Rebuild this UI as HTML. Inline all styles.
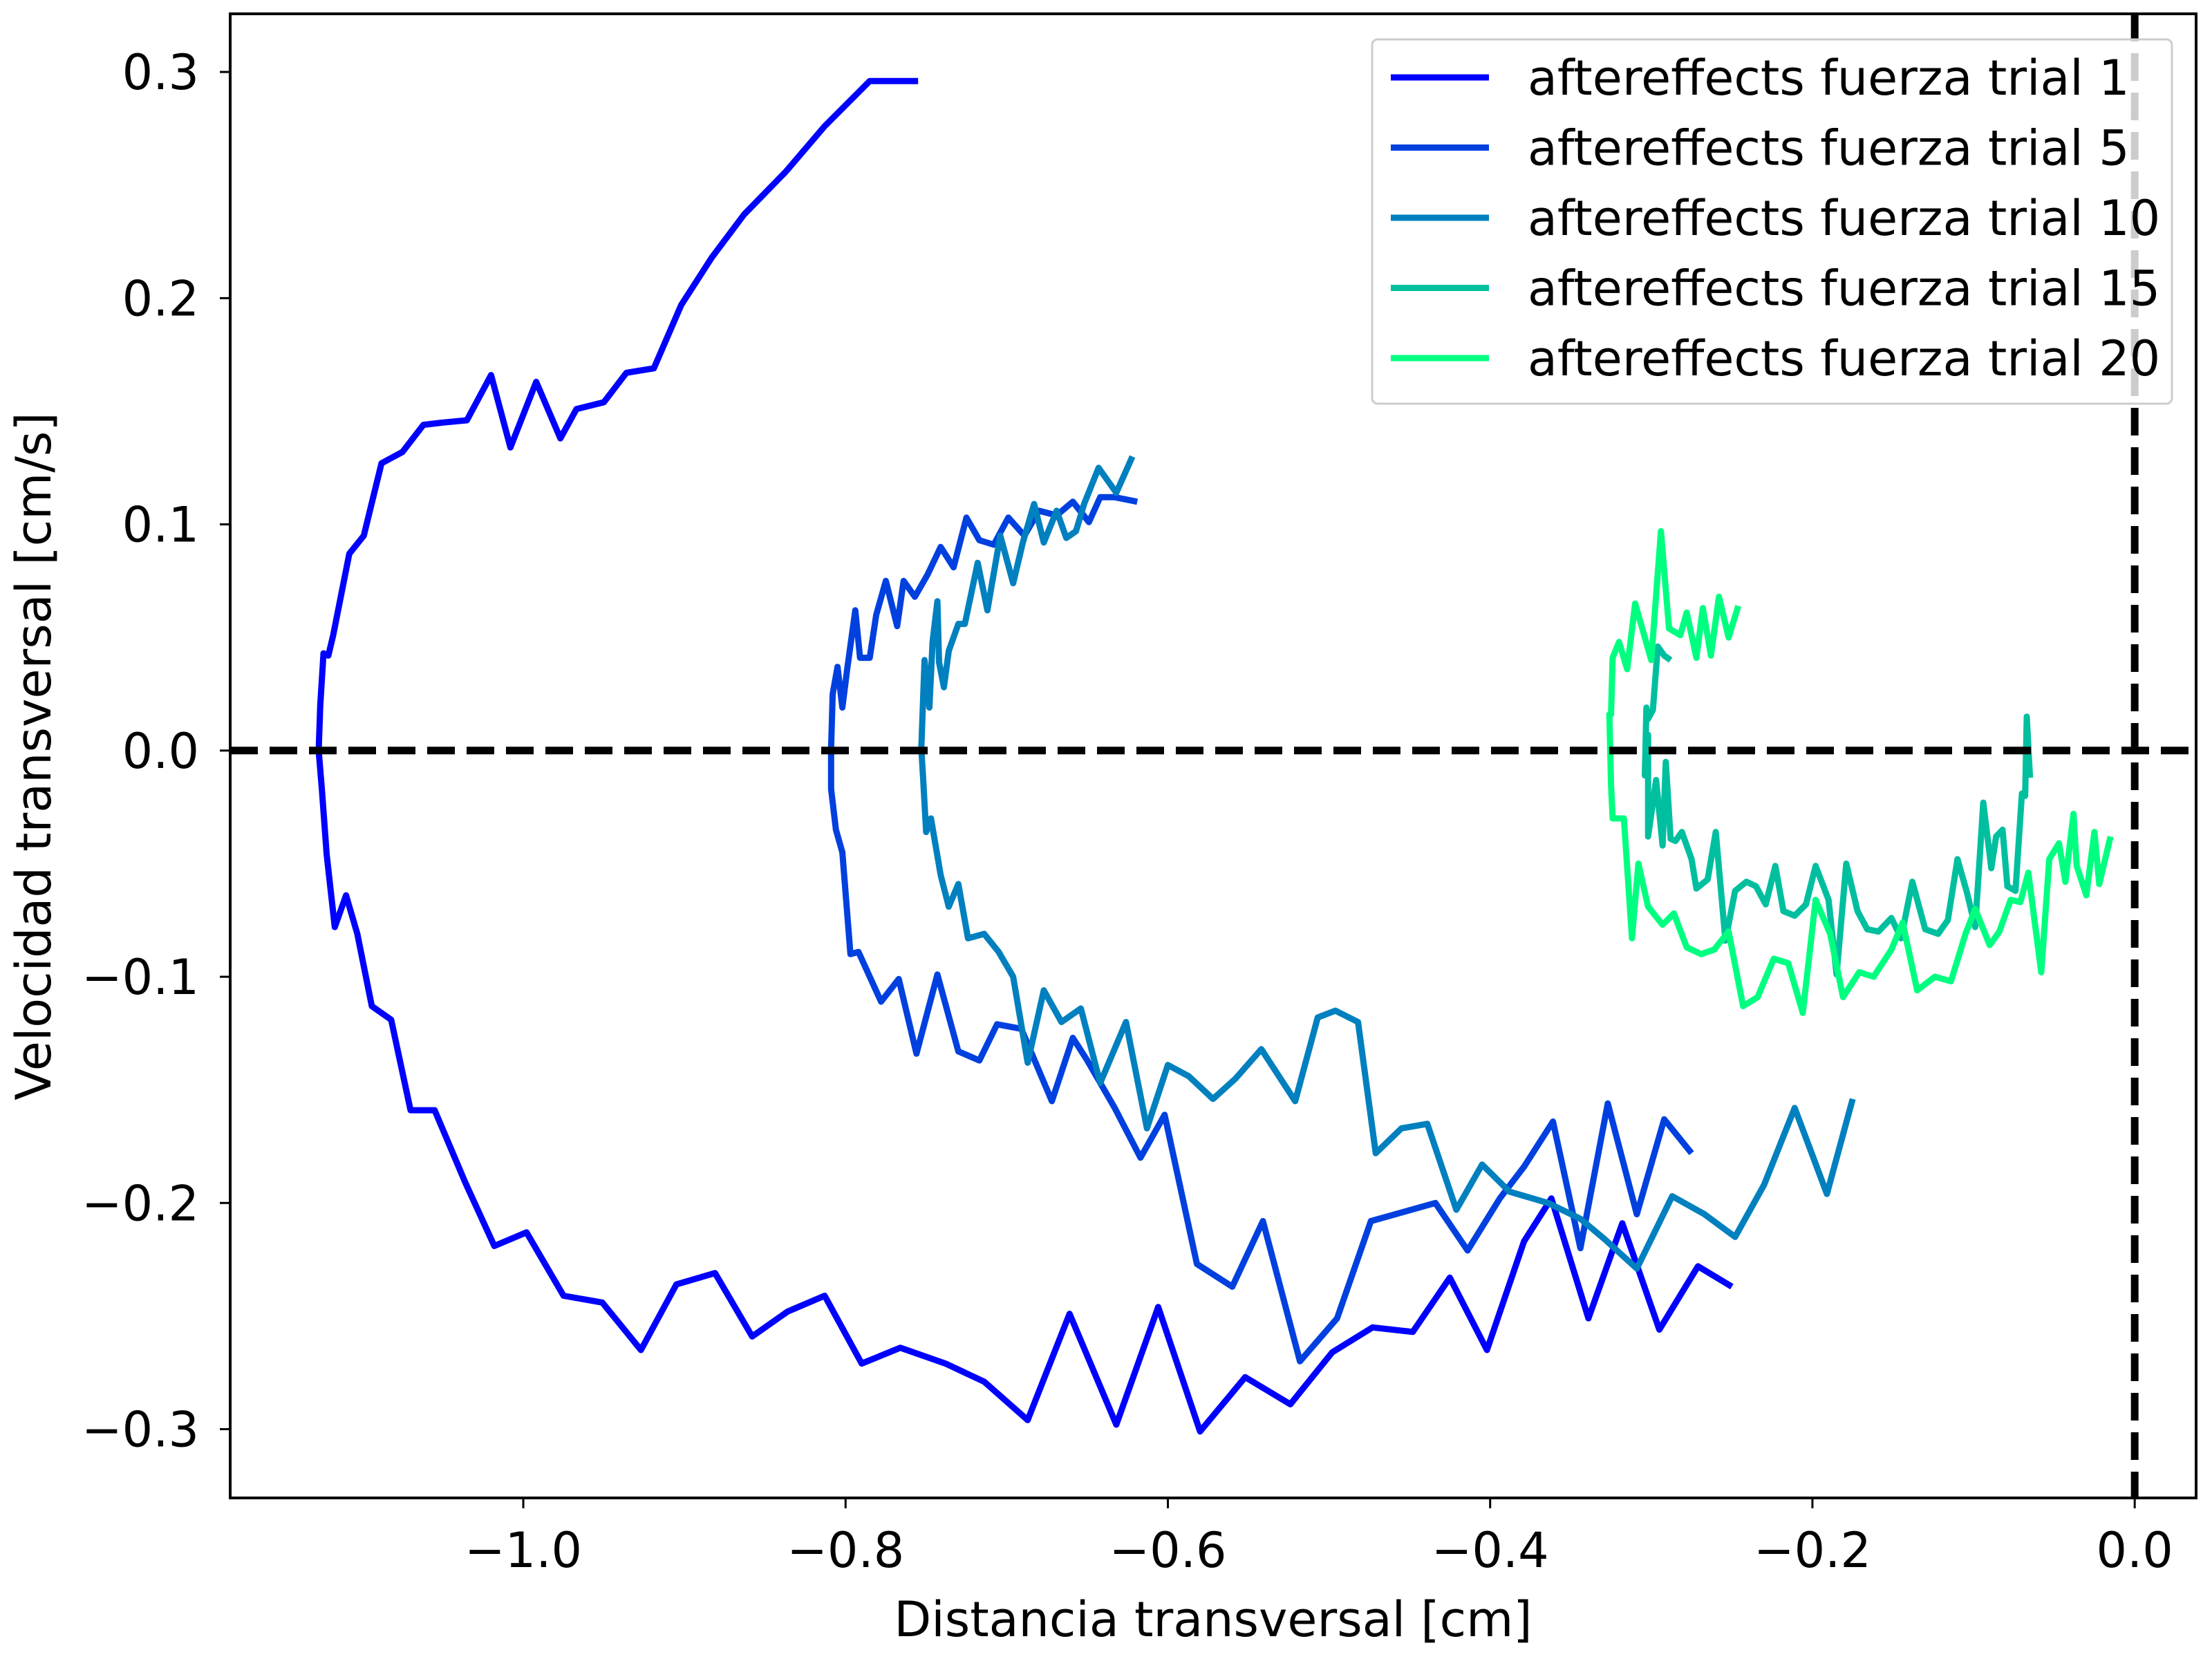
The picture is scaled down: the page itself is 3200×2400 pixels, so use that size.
<!DOCTYPE html>
<html><head><meta charset="utf-8"><style>
html,body{margin:0;padding:0;background:#fff}
svg{display:block}
text{font-family:"DejaVu Sans","Liberation Sans",sans-serif;fill:#000}
</style></head><body>
<svg id="chart" width="3200" height="2400" viewBox="0 0 3200 2400">
<rect width="3200" height="2400" fill="#fff"/>
<g id="marks"></g>
<g id="axes"></g>
<g id="legend"></g>
</svg>
<script>
const xTicks=[-1.0,-0.8,-0.6,-0.4,-0.2,0.0];
const xTickLabels=["\u22121.0","\u22120.8","\u22120.6","\u22120.4","\u22120.2","0.0"];
const yTicks=[-0.3,-0.2,-0.1,0.0,0.1,0.2,0.3];
const yTickLabels=["\u22120.3","\u22120.2","\u22120.1","0.0","0.1","0.2","0.3"];
const seriesNames=["aftereffects fuerza trial 1","aftereffects fuerza trial 5","aftereffects fuerza trial 10","aftereffects fuerza trial 15","aftereffects fuerza trial 20"];
const seriesColors=["#0000ff","#0040df","#0080bf","#00bf9f","#00ff80"];
const t1x=[-0.755,-0.785,-0.813,-0.837,-0.863,-0.883,-0.902,-0.919,-0.936,-0.950,-0.967,-0.977,-0.992,-1.008,-1.020,-1.035,-1.050,-1.062,-1.075,-1.088,-1.099,-1.108,-1.118,-1.121,-1.124,-1.126,-1.127,-1.125,-1.122,-1.117,-1.110,-1.103,-1.094,-1.082,-1.070,-1.055,-1.036,-1.018,-0.998,-0.975,-0.951,-0.927,-0.905,-0.881,-0.858,-0.836,-0.813,-0.790,-0.766,-0.738,-0.714,-0.687,-0.661,-0.632,-0.606,-0.580,-0.552,-0.524,-0.498,-0.473,-0.448,-0.425,-0.402,-0.379,-0.362,-0.339,-0.318,-0.295,-0.271,-0.250];
const t1y=[0.296,0.296,0.276,0.256,0.237,0.218,0.197,0.169,0.167,0.154,0.151,0.138,0.163,0.134,0.166,0.146,0.145,0.144,0.132,0.127,0.095,0.087,0.051,0.042,0.043,0.020,0.0,-0.017,-0.046,-0.078,-0.064,-0.081,-0.113,-0.119,-0.159,-0.159,-0.191,-0.219,-0.213,-0.241,-0.244,-0.265,-0.236,-0.231,-0.259,-0.248,-0.241,-0.271,-0.264,-0.271,-0.279,-0.296,-0.249,-0.298,-0.246,-0.301,-0.277,-0.289,-0.266,-0.255,-0.257,-0.233,-0.265,-0.217,-0.198,-0.251,-0.209,-0.256,-0.228,-0.237];
const t5x=[-0.619,-0.633,-0.642,-0.649,-0.659,-0.669,-0.680,-0.689,-0.699,-0.708,-0.717,-0.725,-0.733,-0.741,-0.749,-0.757,-0.764,-0.768,-0.775,-0.781,-0.785,-0.791,-0.794,-0.799,-0.802,-0.805,-0.808,-0.809,-0.809,-0.806,-0.802,-0.797,-0.792,-0.778,-0.767,-0.756,-0.743,-0.730,-0.717,-0.706,-0.691,-0.672,-0.659,-0.650,-0.633,-0.617,-0.602,-0.582,-0.560,-0.541,-0.518,-0.495,-0.474,-0.434,-0.414,-0.394,-0.379,-0.361,-0.344,-0.327,-0.309,-0.292,-0.275];
const t5y=[0.110,0.112,0.112,0.101,0.110,0.104,0.106,0.095,0.103,0.091,0.093,0.103,0.081,0.090,0.078,0.068,0.075,0.055,0.075,0.060,0.041,0.041,0.062,0.036,0.019,0.037,0.025,0.001,-0.017,-0.035,-0.045,-0.090,-0.089,-0.111,-0.101,-0.134,-0.099,-0.133,-0.137,-0.121,-0.123,-0.155,-0.127,-0.137,-0.158,-0.180,-0.161,-0.227,-0.237,-0.208,-0.270,-0.251,-0.208,-0.200,-0.221,-0.198,-0.184,-0.164,-0.220,-0.156,-0.205,-0.163,-0.178];
const t10x=[-0.622,-0.632,-0.643,-0.652,-0.657,-0.663,-0.669,-0.677,-0.683,-0.690,-0.696,-0.704,-0.712,-0.718,-0.726,-0.730,-0.736,-0.739,-0.742,-0.743,-0.746,-0.748,-0.751,-0.753,-0.752,-0.750,-0.747,-0.741,-0.736,-0.730,-0.724,-0.714,-0.705,-0.696,-0.687,-0.677,-0.666,-0.654,-0.642,-0.626,-0.613,-0.600,-0.587,-0.572,-0.558,-0.542,-0.521,-0.507,-0.496,-0.482,-0.471,-0.455,-0.439,-0.421,-0.405,-0.388,-0.364,-0.344,-0.329,-0.309,-0.287,-0.267,-0.248,-0.230,-0.211,-0.191,-0.175];
const t10y=[0.130,0.114,0.125,0.109,0.097,0.094,0.106,0.092,0.109,0.092,0.074,0.095,0.062,0.083,0.056,0.056,0.044,0.028,0.039,0.066,0.048,0.019,0.040,0.001,-0.011,-0.036,-0.030,-0.055,-0.069,-0.059,-0.083,-0.081,-0.089,-0.100,-0.138,-0.106,-0.120,-0.114,-0.147,-0.120,-0.167,-0.139,-0.144,-0.154,-0.145,-0.132,-0.155,-0.118,-0.115,-0.120,-0.178,-0.167,-0.165,-0.203,-0.183,-0.195,-0.200,-0.207,-0.216,-0.229,-0.197,-0.205,-0.215,-0.192,-0.158,-0.196,-0.154];
const t15x=[-0.065,-0.067,-0.068,-0.070,-0.074,-0.079,-0.082,-0.086,-0.089,-0.094,-0.099,-0.104,-0.110,-0.116,-0.122,-0.130,-0.138,-0.145,-0.151,-0.159,-0.166,-0.172,-0.179,-0.185,-0.190,-0.198,-0.204,-0.211,-0.218,-0.223,-0.229,-0.235,-0.241,-0.248,-0.254,-0.260,-0.265,-0.272,-0.275,-0.281,-0.285,-0.288,-0.291,-0.293,-0.297,-0.302,-0.302,-0.304,-0.303,-0.302,-0.299,-0.296,-0.292,-0.288];
const t15y=[-0.012,0.015,-0.020,-0.019,-0.062,-0.060,-0.035,-0.038,-0.052,-0.023,-0.078,-0.063,-0.048,-0.075,-0.081,-0.079,-0.058,-0.083,-0.074,-0.080,-0.079,-0.071,-0.050,-0.099,-0.066,-0.051,-0.068,-0.073,-0.071,-0.051,-0.068,-0.060,-0.058,-0.062,-0.084,-0.036,-0.057,-0.061,-0.048,-0.036,-0.040,-0.039,-0.005,-0.042,-0.013,-0.038,0.007,-0.011,0.019,0.014,0.018,0.046,0.042,0.040];
const t20x=[-0.015,-0.022,-0.025,-0.030,-0.036,-0.038,-0.043,-0.047,-0.053,-0.058,-0.066,-0.071,-0.077,-0.084,-0.090,-0.099,-0.105,-0.114,-0.124,-0.135,-0.144,-0.151,-0.162,-0.171,-0.181,-0.189,-0.198,-0.206,-0.215,-0.224,-0.234,-0.243,-0.252,-0.261,-0.269,-0.278,-0.286,-0.293,-0.302,-0.308,-0.312,-0.317,-0.324,-0.325,-0.326,-0.325,-0.324,-0.320,-0.315,-0.310,-0.300,-0.294,-0.289,-0.282,-0.278,-0.272,-0.268,-0.263,-0.258,-0.252,-0.246];
const t20y=[-0.038,-0.059,-0.036,-0.064,-0.051,-0.028,-0.058,-0.041,-0.048,-0.098,-0.054,-0.067,-0.066,-0.080,-0.086,-0.070,-0.081,-0.102,-0.100,-0.106,-0.076,-0.088,-0.100,-0.098,-0.109,-0.081,-0.066,-0.116,-0.094,-0.092,-0.109,-0.113,-0.080,-0.088,-0.090,-0.087,-0.072,-0.077,-0.069,-0.050,-0.083,-0.030,-0.030,-0.015,0.016,0.016,0.041,0.048,0.036,0.065,0.040,0.097,0.054,0.051,0.061,0.041,0.063,0.042,0.068,0.050,0.064];

const NS="http://www.w3.org/2000/svg";
const L=333,R=3177,T=20,B=2167;
const X0=-1.1819,X1=0.0381,Y0=-0.3304,Y1=0.3257;
function sx(v){return L+(v-X0)/(X1-X0)*(R-L);}
function sy(v){return B-(v-Y0)/(Y1-Y0)*(B-T);}
function mk(tag,attrs,parent){const e=document.createElementNS(NS,tag);for(const k in attrs)e.setAttribute(k,attrs[k]);parent.appendChild(e);return e;}
const marks=document.getElementById('marks'),axes=document.getElementById('axes'),legend=document.getElementById('legend');
const allX=[t1x,t5x,t10x,t15x,t20x],allY=[t1y,t5y,t10y,t15y,t20y];
allX.forEach((xs,i)=>{
  const pts=xs.map((x,j)=>sx(x).toFixed(1)+','+sy(allY[i][j]).toFixed(1)).join(' ');
  const p=mk('polyline',{points:pts,fill:'none',stroke:seriesColors[i],'stroke-width':9,'stroke-linejoin':'round','stroke-linecap':'butt'},marks);
  
  
});
const h=mk('line',{x1:L,x2:R,y1:sy(0),y2:sy(0),stroke:'#000','stroke-width':11,'stroke-dasharray':'40 17'},marks);


const v=mk('line',{x1:sx(0),x2:sx(0),y1:T,y2:B,stroke:'#000','stroke-width':11,'stroke-dasharray':'40 17'},marks);


const frame=mk('rect',{x:L,y:T,width:R-L,height:B-T,fill:'none',stroke:'#000','stroke-width':4},axes);


xTicks.forEach((t,i)=>{
  const x=sx(t);
  const tk=mk('line',{x1:x,x2:x,y1:B,y2:B+15,stroke:'#000','stroke-width':3},axes);
  
  
  const tx=mk('text',{x:x,y:B+100,'text-anchor':'middle','font-size':70},axes);
  tx.textContent=xTickLabels[i];
  
  
});
yTicks.forEach((t,i)=>{
  const y=sy(t);
  const tk=mk('line',{x1:L-15,x2:L,y1:y,y2:y,stroke:'#000','stroke-width':3},axes);
  
  
  const tx=mk('text',{x:288,y:y+25,'text-anchor':'end','font-size':70},axes);
  tx.textContent=yTickLabels[i];
  
  
});
const xt=mk('text',{x:(L+R)/2,y:2367,'text-anchor':'middle','font-size':70},axes);
xt.textContent='Distancia transversal [cm]';


const yt=mk('text',{x:0,y:0,'text-anchor':'middle','font-size':70,transform:'translate(73,1094) rotate(-90)'},axes);
yt.textContent='Velocidad transversal [cm/s]';


const lb=mk('rect',{x:1985,y:57,width:1157,height:527,rx:8,fill:'#fff','fill-opacity':0.8,stroke:'#ccc','stroke-width':3},legend);


seriesNames.forEach((n,i)=>{
  const y=112+i*101.5;
  const g=mk('g',{},legend);
  
  
  mk('line',{x1:2012,x2:2154,y1:y,y2:y,stroke:seriesColors[i],'stroke-width':9},g);
  const t=mk('text',{x:2210,y:y+25,'font-size':70},g);
  t.textContent=n;
});
</script>
</body></html>
